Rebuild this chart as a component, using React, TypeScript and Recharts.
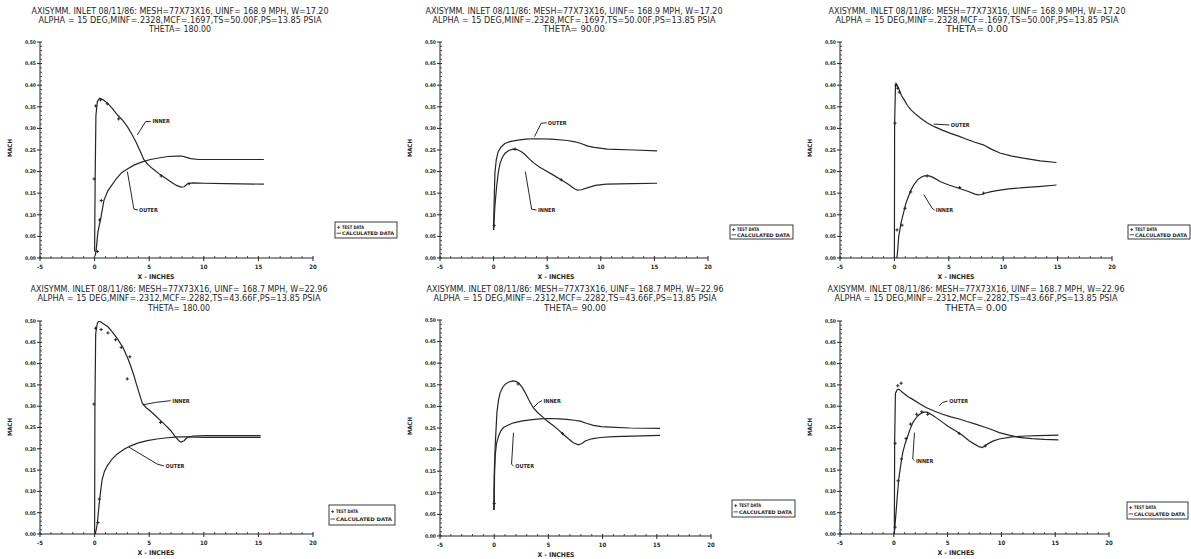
import React from 'react';
import { ComposedChart, Line, Scatter, XAxis, YAxis, ReferenceLine, ReferenceDot } from 'recharts';

type Pt = { x: number; y: number };
const toPts = (a: number[][]): Pt[] => a.map(([x, y]) => ({ x, y }));

// ---------- tick labels ----------
const X_TICKS = [-5, 0, 5, 10, 15, 20];
const X_TICK_LABELS = ['-5', '0', '5', '10', '15', '20'];
const Y_TICKS = [0, 0.05, 0.1, 0.15, 0.2, 0.25, 0.3, 0.35, 0.4, 0.45, 0.5];
const Y_TICK_LABELS = ['0.00', '0.05', '0.10', '0.15', '0.20', '0.25', '0.30', '0.35', '0.40', '0.45', '0.50'];
const X_MINOR = [-4, -3, -2, -1, 1, 2, 3, 4, 6, 7, 8, 9, 11, 12, 13, 14, 16, 17, 18, 19];
const Y_MINOR = [0.01, 0.02, 0.03, 0.04, 0.06, 0.07, 0.08, 0.09, 0.11, 0.12, 0.13, 0.14, 0.16, 0.17, 0.18, 0.19,
  0.21, 0.22, 0.23, 0.24, 0.26, 0.27, 0.28, 0.29, 0.31, 0.32, 0.33, 0.34, 0.36, 0.37, 0.38, 0.39, 0.41, 0.42, 0.43, 0.44,
  0.46, 0.47, 0.48, 0.49];

// ---------- titles ----------
const TOP_T1 = 'AXISYMM. INLET 08/11/86: MESH=77X73X16, UINF= 168.9 MPH, W=17.20';
const TOP_T2 = 'ALPHA = 15 DEG,MINF=.2328,MCF=.1697,TS=50.00F,PS=13.85 PSIA';
const BOT_T1 = 'AXISYMM. INLET 08/11/86: MESH=77X73X16, UINF= 168.7 MPH, W=22.96';
const BOT_T2 = 'ALPHA = 15 DEG,MINF=.2312,MCF=.2282,TS=43.66F,PS=13.85 PSIA';
const THETA_180 = 'THETA= 180.00';
const THETA_90 = 'THETA=  90.00';
const THETA_0 = 'THETA=   0.00';

// ---------- panel 1 : top, theta 180 ----------
const P1_INNER = toPts([[0, 0.015], [0.05, 0.18], [0.12, 0.33], [0.25, 0.362], [0.45, 0.37], [0.8, 0.366], [1.2, 0.358], [1.6, 0.347],
  [2.1, 0.331], [2.6, 0.318], [3.0, 0.304], [3.4, 0.287], [3.8, 0.268], [4.2, 0.246], [4.5, 0.228], [4.9, 0.216], [5.3, 0.207],
  [6.0, 0.193], [6.6, 0.183], [7.0, 0.176], [7.5, 0.168], [7.9, 0.164], [8.2, 0.165], [8.5, 0.172], [9.0, 0.174], [10, 0.173],
  [12, 0.172], [15.5, 0.171]]);
const P1_OUTER = toPts([[0.05, 0.005], [0.15, 0.02], [0.3, 0.06], [0.55, 0.09], [0.85, 0.133], [1.2, 0.155], [1.5, 0.166], [2.0, 0.184],
  [2.5, 0.198], [3.0, 0.206], [3.6, 0.215], [4.3, 0.222], [5.1, 0.228], [6.0, 0.232], [6.7, 0.235], [7.5, 0.236], [8.0, 0.236],
  [8.4, 0.233], [8.8, 0.23], [9.5, 0.228], [12, 0.228], [15.5, 0.228]]);
const P1_TEST = toPts([[-0.05, 0.183], [0.25, 0.015], [0.46, 0.088], [0.61, 0.133], [0.1, 0.352], [0.55, 0.366], [1.16, 0.357],
  [2.2, 0.322], [6.1, 0.19], [8.65, 0.172]]);
const P1_LABELS = [
  { text: 'INNER', at: [5.3, 0.316], leader: [[5.14, 0.316], [4.68, 0.316], [3.91, 0.285]] },
  { text: 'OUTER', at: [4.06, 0.111], leader: [[3.98, 0.111], [3.6, 0.113], [3.0, 0.2]] },
];

// ---------- panel 2 : top, theta 90 ----------
const P2_OUTER = toPts([[0.0, 0.065], [0.05, 0.13], [0.12, 0.196], [0.25, 0.228], [0.43, 0.246], [0.7, 0.257], [1.05, 0.265], [1.6, 0.27],
  [2.3, 0.273], [3.0, 0.275], [3.8, 0.276], [5.4, 0.275], [6.9, 0.272], [7.6, 0.269], [8.15, 0.265], [8.8, 0.259], [9.4, 0.256],
  [10.6, 0.252], [13.1, 0.25], [15.25, 0.248]]);
const P2_INNER = toPts([[0.0, 0.065], [0.12, 0.12], [0.28, 0.165], [0.45, 0.2], [0.6, 0.219], [0.8, 0.232], [1.05, 0.242], [1.4, 0.249],
  [1.8, 0.252], [2.2, 0.251], [2.6, 0.246], [2.9, 0.24], [3.3, 0.23], [3.8, 0.219], [4.3, 0.21], [4.8, 0.203], [5.5, 0.193],
  [6.3, 0.181], [7.0, 0.17], [7.5, 0.161], [7.8, 0.157], [8.2, 0.158], [8.8, 0.163], [9.5, 0.168], [10.5, 0.171], [13, 0.172],
  [15.25, 0.173]]);
const P2_TEST = toPts([[0.05, 0.075], [2.0, 0.252], [6.3, 0.181]]);
const P2_LABELS = [
  { text: 'OUTER', at: [5.06, 0.313], leader: [[4.95, 0.313], [4.44, 0.312], [3.82, 0.281]] },
  { text: 'INNER', at: [4.14, 0.111], leader: [[4.0, 0.111], [3.55, 0.113], [2.96, 0.2]] },
];

// ---------- panel 3 : top, theta 0 ----------
const P3_OUTER = toPts([[0.0, 0.0], [0.02, 0.31], [0.1, 0.4], [0.15, 0.404], [0.3, 0.398], [0.45, 0.389], [0.65, 0.376], [0.9, 0.366],
  [1.2, 0.353], [1.52, 0.343], [2.0, 0.332], [2.44, 0.323], [3.0, 0.313], [3.67, 0.304], [4.4, 0.296], [5.1, 0.289], [5.9, 0.282],
  [6.64, 0.275], [7.4, 0.268], [8.17, 0.262], [8.9, 0.252], [9.7, 0.243], [10.8, 0.236], [11.85, 0.231], [13.4, 0.225], [14.9, 0.221]]);
const P3_INNER = toPts([[0.15, 0.0], [0.25, 0.003], [0.4, 0.05], [0.6, 0.08], [0.75, 0.096], [1.06, 0.127], [1.3, 0.143], [1.52, 0.157],
  [1.8, 0.17], [2.13, 0.181], [2.45, 0.187], [2.74, 0.19], [3.2, 0.19], [3.6, 0.186], [4.2, 0.177], [5.0, 0.169], [6.0, 0.161],
  [6.8, 0.154], [7.4, 0.148], [7.7, 0.146], [8.0, 0.147], [8.3, 0.15], [8.8, 0.153], [9.4, 0.156], [10.5, 0.16], [11.85, 0.163],
  [13.5, 0.166], [14.9, 0.169]]);
const P3_TEST = toPts([[0.05, 0.312], [0.15, 0.4], [0.3, 0.393], [0.45, 0.384], [0.24, 0.065], [0.7, 0.076], [0.97, 0.115],
  [1.5, 0.153], [3.0, 0.19], [6.0, 0.163], [8.2, 0.15]]);
const P3_LABELS = [
  { text: 'OUTER', at: [5.19, 0.308], leader: [[5.05, 0.308], [3.62, 0.31]] },
  { text: 'INNER', at: [3.81, 0.111], leader: [[3.7, 0.111], [3.47, 0.115], [2.7, 0.147]] },
];

// ---------- panel 4 : bottom, theta 180 ----------
const P4_INNER = toPts([[0.0, 0.0], [0.03, 0.3], [0.1, 0.47], [0.25, 0.495], [0.4, 0.5], [0.6, 0.497], [0.9, 0.492], [1.2, 0.487],
  [1.6, 0.475], [2.1, 0.458], [2.6, 0.438], [3.0, 0.415], [3.3, 0.395], [3.6, 0.372], [3.85, 0.35], [4.1, 0.329], [4.37, 0.307],
  [4.7, 0.297], [5.13, 0.288], [5.6, 0.277], [6.04, 0.266], [6.5, 0.255], [6.96, 0.243], [7.35, 0.23], [7.72, 0.219], [7.9, 0.216],
  [8.2, 0.219], [8.5, 0.227], [9.0, 0.23], [10, 0.231], [12, 0.231], [15.2, 0.231]]);
const P4_OUTER = toPts([[0.05, 0.0], [0.15, 0.01], [0.25, 0.025], [0.4, 0.066], [0.55, 0.1], [0.7, 0.129], [0.9, 0.147], [1.16, 0.16],
  [1.6, 0.176], [2.08, 0.188], [2.7, 0.199], [3.3, 0.207], [4.0, 0.214], [4.83, 0.219], [5.7, 0.223], [6.66, 0.226], [7.6, 0.228],
  [8.5, 0.228], [10, 0.227], [12, 0.227], [15.2, 0.227]]);
const P4_TEST = toPts([[0.09, 0.483], [0.6, 0.48], [1.22, 0.472], [1.92, 0.456], [2.44, 0.438], [3.23, 0.416], [2.99, 0.364],
  [6.04, 0.262], [-0.06, 0.305], [0.3, 0.027], [0.43, 0.082]]);
const P4_LABELS = [
  { text: 'INNER', at: [7.12, 0.313], leader: [[6.96, 0.313], [5.6, 0.309], [4.4, 0.303]] },
  { text: 'OUTER', at: [6.5, 0.16], leader: [[6.35, 0.16], [5.74, 0.164], [3.14, 0.204]] },
];

// ---------- panel 5 : bottom, theta 90 ----------
const P5_INNER = toPts([[-0.05, 0.06], [0.0, 0.14], [0.09, 0.208], [0.25, 0.286], [0.4, 0.315], [0.55, 0.332], [0.8, 0.345], [1.0, 0.351],
  [1.3, 0.356], [1.7, 0.359], [2.0, 0.358], [2.24, 0.355], [2.55, 0.345], [2.86, 0.332], [3.2, 0.315], [3.6, 0.297], [4.0, 0.286],
  [4.54, 0.274], [5.0, 0.264], [5.47, 0.255], [6.0, 0.244], [6.39, 0.235], [6.9, 0.224], [7.3, 0.216], [7.77, 0.211], [8.1, 0.214],
  [8.4, 0.22], [9.0, 0.225], [9.77, 0.228], [11, 0.23], [12.8, 0.231], [15.3, 0.233]]);
const P5_OUTER = toPts([[0.0, 0.06], [0.03, 0.14], [0.09, 0.185], [0.2, 0.212], [0.4, 0.231], [0.6, 0.243], [0.86, 0.251], [1.3, 0.257],
  [1.78, 0.262], [2.5, 0.266], [3.3, 0.269], [4.2, 0.271], [5.16, 0.272], [6.0, 0.271], [6.7, 0.27], [7.4, 0.268], [7.93, 0.266],
  [8.5, 0.261], [9.15, 0.256], [9.9, 0.253], [10.7, 0.252], [12.5, 0.25], [15.3, 0.249]]);
const P5_TEST = toPts([[0.0, 0.075], [2.2, 0.352], [6.3, 0.237]]);
const P5_LABELS = [
  { text: 'INNER', at: [4.54, 0.313], leader: [[4.4, 0.313], [4.08, 0.309], [3.62, 0.297]] },
  { text: 'OUTER', at: [1.94, 0.162], leader: [[1.78, 0.162], [1.6, 0.166], [1.78, 0.239]] },
];

// ---------- panel 6 : bottom, theta 0 ----------
const P6_OUTER = toPts([[0.05, 0.0], [0.08, 0.215], [0.15, 0.33], [0.3, 0.338], [0.46, 0.34], [0.83, 0.332], [1.3, 0.323], [1.76, 0.316],
  [2.4, 0.306], [3.0, 0.297], [3.8, 0.288], [4.54, 0.281], [5.3, 0.275], [6.08, 0.27], [6.8, 0.264], [7.6, 0.258], [8.55, 0.25],
  [9.2, 0.244], [9.8, 0.238], [10.7, 0.232], [11.6, 0.227], [12.85, 0.224], [14, 0.222], [15.3, 0.221]]);
const P6_INNER = toPts([[0.06, 0.004], [0.21, 0.051], [0.33, 0.09], [0.46, 0.129], [0.65, 0.163], [0.83, 0.191], [1.05, 0.212], [1.3, 0.23],
  [1.5, 0.245], [1.76, 0.261], [2.0, 0.27], [2.22, 0.277], [2.5, 0.283], [2.8, 0.286], [3.1, 0.286], [3.6, 0.279], [4.0, 0.272],
  [4.54, 0.262], [5.1, 0.252], [5.77, 0.242], [6.4, 0.231], [7.0, 0.219], [7.5, 0.211], [7.94, 0.205], [8.2, 0.203], [8.45, 0.206],
  [8.7, 0.211], [9.2, 0.218], [9.8, 0.223], [11, 0.228], [12.25, 0.23], [13.5, 0.231], [15.3, 0.232]]);
const P6_TEST = toPts([[0.37, 0.348], [0.68, 0.354], [0.12, 0.213], [0.12, 0.016], [0.4, 0.125], [0.71, 0.176], [1.14, 0.224],
  [1.55, 0.258], [2.13, 0.281], [2.6, 0.287], [3.15, 0.281], [6.08, 0.236], [8.5, 0.207]]);
const P6_LABELS = [
  { text: 'OUTER', at: [5.16, 0.312], leader: [[5.0, 0.312], [4.54, 0.309], [4.23, 0.301]] },
  { text: 'INNER', at: [2.06, 0.172], leader: [[1.92, 0.172], [1.76, 0.176], [1.92, 0.238]] },
];

// ---------- layout ----------
const INK = '#262626';
const FONT = '"Liberation Sans Narrow", "DejaVu Sans Condensed", "Liberation Sans", Arial, sans-serif';

const PANELS = [
  { L: 40, T: 42, W: 273, H: 216, title: [TOP_T1, TOP_T2, THETA_180], cx: 180, ty: [14, 23, 32], inner: P1_INNER, outer: P1_OUTER, test: P1_TEST, labels: P1_LABELS, legend: { x: 335, y: 222, w: 62, h: 16 } },
  { L: 440, T: 42, W: 268, H: 216, title: [TOP_T2 && TOP_T1, TOP_T2, THETA_90], cx: 574, ty: [14, 23, 32], inner: P2_INNER, outer: P2_OUTER, test: P2_TEST, labels: P2_LABELS, legend: { x: 730, y: 225, w: 63, h: 14 } },
  { L: 840, T: 42, W: 272, H: 216, title: [TOP_T1, TOP_T2, THETA_0], cx: 977, ty: [14, 23, 32], inner: P3_INNER, outer: P3_OUTER, test: P3_TEST, labels: P3_LABELS, legend: { x: 1128, y: 225, w: 62, h: 14 } },
  { L: 40, T: 321, W: 273, H: 213, title: [BOT_T1, BOT_T2, THETA_180], cx: 179, ty: [292, 301, 311], inner: P4_INNER, outer: P4_OUTER, test: P4_TEST, labels: P4_LABELS, legend: { x: 329, y: 505, w: 66, h: 20 } },
  { L: 440, T: 320, W: 271, H: 216, title: [BOT_T1, BOT_T2, THETA_90], cx: 575, ty: [292, 301, 311], inner: P5_INNER, outer: P5_OUTER, test: P5_TEST, labels: P5_LABELS, legend: { x: 732, y: 500, w: 63, h: 17 } },
  { L: 840, T: 321, W: 269, H: 213, title: [BOT_T1, BOT_T2, THETA_0], cx: 976, ty: [292, 301, 311], inner: P6_INNER, outer: P6_OUTER, test: P6_TEST, labels: P6_LABELS, legend: { x: 1127, y: 502, w: 61, h: 17 } },
];

const isMajor = (v: number, list: number[]) => list.some((t) => Math.abs(t - v) < 1e-6);

const XTick = (props: any) => {
  const { x, y, payload } = props;
  const v = payload.value;
  const idx = X_TICKS.findIndex((t) => Math.abs(t - v) < 1e-6);
  if (idx >= 0) {
    return (
      <g>
        <line x1={x} x2={x} y1={y - 2} y2={y + 3} stroke={INK} strokeWidth={1} />
        <text x={x} y={y + 11} textAnchor="middle" fontSize={6} fontWeight="bold" fill={INK} fontFamily={FONT}>{X_TICK_LABELS[idx]}</text>
      </g>
    );
  }
  return <line x1={x} x2={x} y1={y - 2} y2={y} stroke={INK} strokeWidth={0.8} />;
};

const YTick = (props: any) => {
  const { x, y, payload } = props;
  const v = payload.value;
  const idx = Y_TICKS.findIndex((t) => Math.abs(t - v) < 1e-6);
  if (idx >= 0) {
    return (
      <g>
        <line x1={x - 3} x2={x + 2} y1={y} y2={y} stroke={INK} strokeWidth={1} />
        <text x={x - 4} y={y + 1.8} textAnchor="end" fontSize={5} fontWeight="bold" fill={INK} fontFamily={FONT}>{Y_TICK_LABELS[idx]}</text>
      </g>
    );
  }
  return <line x1={x} x2={x + 2} y1={y} y2={y} stroke={INK} strokeWidth={0.8} />;
};

const plusShape = (props: any) => {
  const { cx, cy } = props;
  if (cx == null || cy == null) return <g />;
  return <path d={`M${cx - 1.6},${cy}h3.2M${cx},${cy - 1.6}v3.2`} stroke={INK} strokeWidth={1} fill="none" />;
};

const ALL_X = [...X_TICKS, ...X_MINOR].sort((a, b) => a - b);
const ALL_Y = [...Y_TICKS, ...Y_MINOR].sort((a, b) => a - b);

function Panel({ p }: { p: (typeof PANELS)[number] }) {
  const cw = p.W + 50;
  const ch = p.H + 66;
  return (
    <div style={{ position: 'absolute', left: p.L - 40, top: p.T - 42, width: cw, height: ch }}>
      <ComposedChart width={cw} height={ch} margin={{ top: 42, right: 10, left: 10, bottom: 2 }}>
        <XAxis type="number" dataKey="x" domain={[-5, 20]} ticks={ALL_X} interval={0} tick={XTick}
          tickLine={false} tickSize={0} tickMargin={0} height={22} axisLine={{ stroke: INK, strokeWidth: 1 }} allowDataOverflow />
        <YAxis type="number" dataKey="y" domain={[0, 0.5]} ticks={ALL_Y} interval={0} tick={YTick}
          tickLine={false} tickSize={0} tickMargin={0} width={30} axisLine={{ stroke: INK, strokeWidth: 1 }} allowDataOverflow />
        <Line data={p.outer} dataKey="y" type="linear" stroke={INK} strokeWidth={1.2} dot={false} isAnimationActive={false} />
        <Line data={p.inner} dataKey="y" type="linear" stroke={INK} strokeWidth={1.2} dot={false} isAnimationActive={false} />
        <Scatter data={p.test} dataKey="y" shape={plusShape} isAnimationActive={false} />
        {p.labels.map((lb, i) =>
          lb.leader.slice(1).map((pt, j) => (
            <ReferenceLine key={`l${i}-${j}`} ifOverflow="visible" stroke={INK} strokeWidth={1}
              segment={[{ x: lb.leader[j][0], y: lb.leader[j][1] }, { x: pt[0], y: pt[1] }]} />
          ))
        )}
        {p.labels.map((lb, i) => (
          <ReferenceDot key={`t${i}`} x={lb.at[0]} y={lb.at[1]} r={0} ifOverflow="visible"
            shape={(s: any) => (
              <text x={s.cx} y={s.cy + 2} fontSize={5.5} fontWeight="bold" fill={INK} fontFamily={FONT}>{lb.text}</text>
            )} />
        ))}
      </ComposedChart>
    </div>
  );
}

function Overlay() {
  return (
    <svg width={1191} height={559} style={{ position: 'absolute', left: 0, top: 0, pointerEvents: 'none' }}>
      {PANELS.map((p, i) => (
        <g key={i} fontFamily={FONT} fill={INK}>
          <text x={p.cx} y={p.ty[0]} textAnchor="middle" fontSize={8.5} textLength={297} lengthAdjust="spacingAndGlyphs">{p.title[0]}</text>
          <text x={p.cx} y={p.ty[1]} textAnchor="middle" fontSize={8.5} textLength={283} lengthAdjust="spacingAndGlyphs">{p.title[1]}</text>
          <text x={p.cx} y={p.ty[2]} textAnchor="middle" fontSize={8.5} textLength={62} lengthAdjust="spacingAndGlyphs">{p.title[2]}</text>
          <text x={0} y={0} transform={`translate(${p.L - 28},${p.T + 106}) rotate(-90)`} textAnchor="middle" fontSize={6} fontWeight="bold">MACH</text>
          <text x={p.L + 116} y={p.T + p.H + 21} textAnchor="middle" fontSize={6.5} fontWeight="bold" textLength={37} lengthAdjust="spacingAndGlyphs">X - INCHES</text>
          <rect x={p.legend.x} y={p.legend.y} width={p.legend.w} height={p.legend.h} fill="#fff" stroke={INK} strokeWidth={0.9} />
          <path d={`M${p.legend.x + 2.2},${p.legend.y + p.legend.h * 0.33}h3M${p.legend.x + 3.7},${p.legend.y + p.legend.h * 0.33 - 1.5}v3`} stroke={INK} strokeWidth={0.8} />
          <text x={p.legend.x + 7} y={p.legend.y + p.legend.h * 0.33 + 1.8} fontSize={4.8} fontWeight="bold" textLength={22} lengthAdjust="spacingAndGlyphs">TEST DATA</text>
          <line x1={p.legend.x + 1.5} x2={p.legend.x + 6} y1={p.legend.y + p.legend.h * 0.7} y2={p.legend.y + p.legend.h * 0.7} stroke={INK} strokeWidth={0.8} />
          <text x={p.legend.x + 7} y={p.legend.y + p.legend.h * 0.7 + 1.8} fontSize={4.8} fontWeight="bold" textLength={p.legend.w - 10} lengthAdjust="spacingAndGlyphs">CALCULATED DATA</text>
        </g>
      ))}
    </svg>
  );
}

export default function App() {
  return (
    <div style={{ position: 'absolute', left: 0, top: 0, width: 1191, height: 559, overflow: 'hidden', background: '#fff' }}>
      {PANELS.map((p, i) => (
        <Panel key={i} p={p} />
      ))}
      <Overlay />
    </div>
  );
}
